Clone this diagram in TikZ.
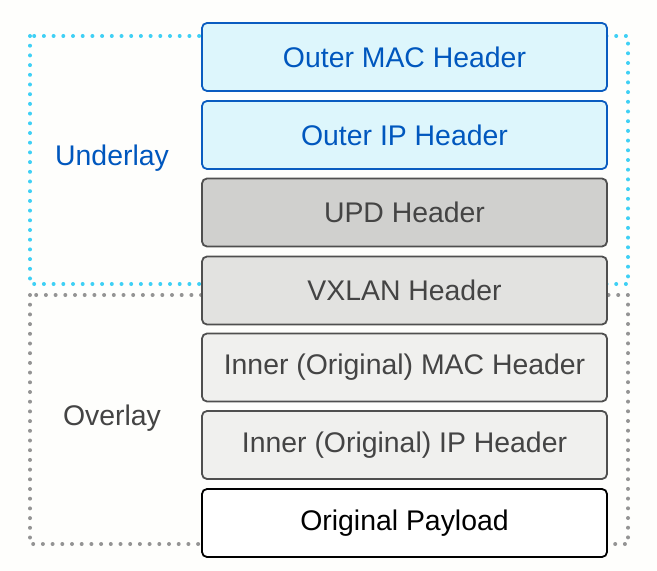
\documentclass[tikz,border=0pt]{standalone}
\usepackage{fontspec}
\setmainfont{Liberation Sans}
\definecolor{pagebg}{HTML}{FEFEFC}
\definecolor{outerfill}{HTML}{DDF6FC}
\definecolor{outerline}{HTML}{0A5CC0}
\definecolor{outertext}{HTML}{0057BE}
\definecolor{udpfill}{HTML}{D0D0CE}
\definecolor{vxlanfill}{HTML}{E2E2E0}
\definecolor{innerfill}{HTML}{F0F0EE}
\definecolor{greyline}{HTML}{4F4F4F}
\definecolor{greytext}{HTML}{444444}
\definecolor{underlaydot}{HTML}{3FD0F5}
\definecolor{overlaydot}{HTML}{949494}

\begin{document}
\begin{tikzpicture}[x=0.5pt, y=-0.5pt,
    hdr/.style={draw, rounded corners=2.5pt, line width=0.9pt, minimum width=202.5pt, minimum height=34pt, font=\fontsize{14.2}{17}\selectfont},
    outerhdr/.style={hdr, fill=outerfill, draw=outerline, text=outertext},
    greyhdr/.style={hdr, draw=greyline, text=greytext},
    layerbox/.style={line width=2pt, line cap=round, dash pattern=on 0pt off 4.85pt},
    layerlabel/.style={font=\fontsize{14.2}{17}\selectfont}]
    \useasboundingbox[fill=pagebg] (0,0) rectangle (657,571);
    % dotted layer frames
    \draw[layerbox, underlaydot] (30,36) rectangle (628,284);
    \draw[layerbox, overlaydot] (30,295) rectangle (628,544);
    % header stack
    \node[outerhdr] (outermac) at (404.5,57) {Outer MAC Header};
    \node[outerhdr] (outerip) at (404.5,135) {Outer IP Header};
    \node[greyhdr, fill=udpfill] (udp) at (404.5,212.5) {UPD Header};
    \node[greyhdr, fill=vxlanfill] (vxlan) at (404.5,290.5) {VXLAN Header};
    \node[greyhdr, fill=innerfill] (innermac) at (404.5,367.5) {Inner (Original) MAC Header};
    \node[greyhdr, fill=innerfill] (innerip) at (404.5,445) {Inner (Original) IP Header};
    \node[hdr, fill=white, draw=black, text=black] (payload) at (404.5,523) {Original Payload};
    % layer names
    \node[layerlabel, text=outertext] (underlay) at (112,158) {Underlay};
    \node[layerlabel, text=greytext] (overlay) at (112,418) {Overlay};
\end{tikzpicture}
\end{document}
